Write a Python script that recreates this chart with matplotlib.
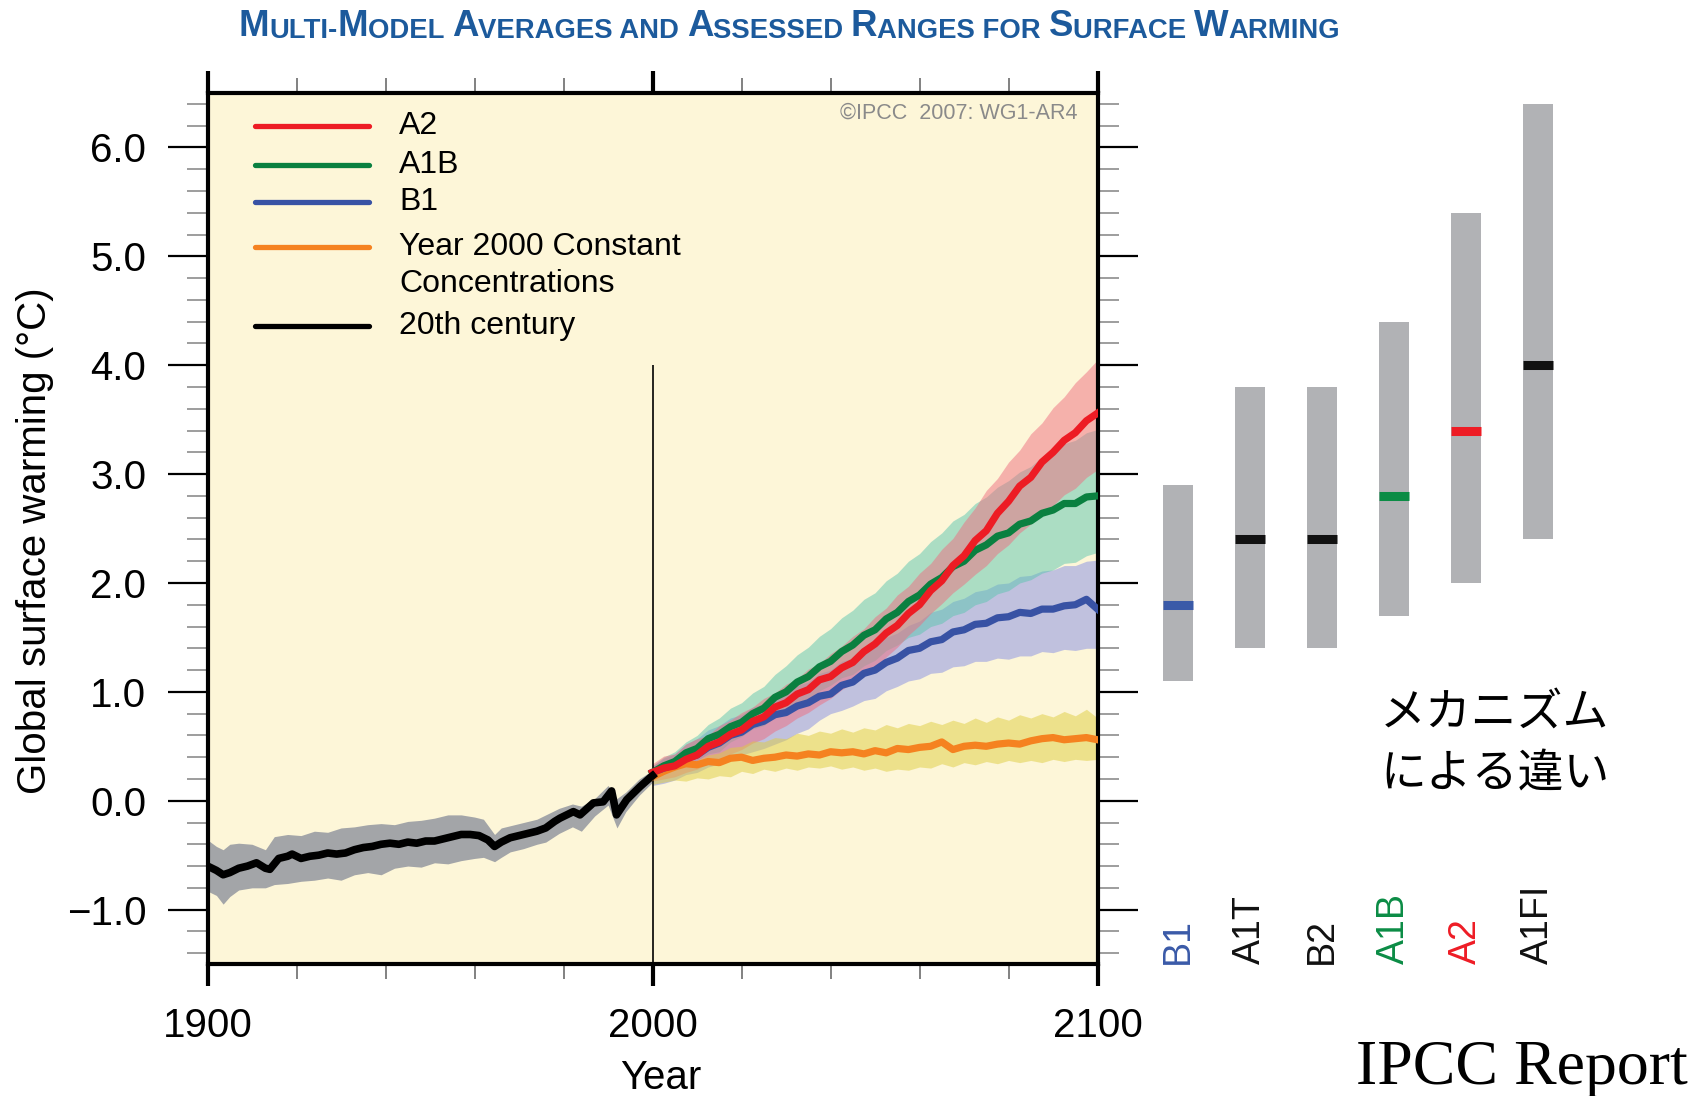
import matplotlib
matplotlib.use("Agg")
import matplotlib.pyplot as plt
from matplotlib.lines import Line2D
from matplotlib.ticker import MultipleLocator, FixedLocator

plt.rcParams['font.family'] = ['Liberation Sans', 'DejaVu Sans']

# ---------------- data ----------------
# 20th century multi-model mean and range (deg C relative to 1980-1999)
hist_years = [1900, 1902, 1903.5, 1905, 1907, 1909, 1911, 1913, 1914, 1916, 1918, 1919,
              1921, 1923, 1925, 1927, 1929, 1931, 1933, 1935, 1937, 1939, 1941, 1943,
              1945, 1947, 1949, 1951, 1953, 1955, 1957, 1959, 1961, 1963, 1964.5, 1966,
              1968, 1970, 1972, 1974, 1976, 1978, 1979.2, 1982.2, 1983.7, 1986.7, 1988.9,
              1990.8, 1991.9, 1994.2, 1997.2, 1999.4, 2000]
hist_mean = [-0.60, -0.64, -0.68, -0.66, -0.62, -0.60, -0.57, -0.62, -0.63, -0.53, -0.51, -0.49,
             -0.53, -0.51, -0.50, -0.48, -0.49, -0.48, -0.45, -0.43, -0.42, -0.40, -0.39, -0.40,
             -0.38, -0.39, -0.37, -0.37, -0.35, -0.33, -0.31, -0.31, -0.32, -0.36, -0.42, -0.38,
             -0.34, -0.32, -0.30, -0.28, -0.25, -0.19, -0.16, -0.10, -0.13, -0.02, -0.01,
             0.09, -0.13, 0.01, 0.13, 0.21, 0.23]

hist_band_years = [1900, 1902, 1903.5, 1905, 1907, 1910, 1913, 1915, 1918, 1921, 1924, 1927,
                   1930, 1933, 1936, 1939, 1942, 1945, 1948, 1951, 1954, 1957, 1960, 1962,
                   1964.5, 1966, 1968, 1971, 1974, 1976, 1979, 1982, 1984, 1987, 1990, 1992,
                   1994, 1997, 2000]
hist_high = [-0.36, -0.42, -0.45, -0.40, -0.39, -0.40, -0.45, -0.33, -0.31, -0.32, -0.28, -0.29,
             -0.25, -0.24, -0.22, -0.21, -0.22, -0.19, -0.18, -0.16, -0.13, -0.13, -0.15, -0.17,
             -0.31, -0.25, -0.23, -0.20, -0.17, -0.13, -0.07, -0.03, -0.05, 0.02, 0.14, 0.02,
             0.08, 0.20, 0.28]
hist_low = [-0.83, -0.87, -0.95, -0.88, -0.82, -0.80, -0.80, -0.77, -0.76, -0.74, -0.73, -0.71,
            -0.73, -0.68, -0.66, -0.68, -0.62, -0.60, -0.61, -0.57, -0.58, -0.55, -0.53, -0.52,
            -0.56, -0.52, -0.47, -0.44, -0.40, -0.38, -0.30, -0.24, -0.28, -0.14, -0.04, -0.25,
            -0.10, 0.05, 0.17]

# 21st century projections on a 2.5-year grid
proj_years = [2000, 2002.5, 2005, 2007.5, 2010, 2012.5, 2015, 2017.5, 2020, 2022.5, 2025,
              2027.5, 2030, 2032.5, 2035, 2037.5, 2040, 2042.5, 2045, 2047.5, 2050,
              2052.5, 2055, 2057.5, 2060, 2062.5, 2065, 2067.5, 2070, 2072.5, 2075,
              2077.5, 2080, 2082.5, 2085, 2087.5, 2090, 2092.5, 2095, 2097.5, 2100]
a2_mean = [0.26, 0.30, 0.32, 0.38, 0.42, 0.50, 0.54, 0.61, 0.65, 0.73, 0.77,
           0.86, 0.90, 0.98, 1.02, 1.11, 1.14, 1.22, 1.27, 1.37, 1.44,
           1.54, 1.61, 1.72, 1.80, 1.93, 2.02, 2.16, 2.25, 2.39, 2.48,
           2.64, 2.75, 2.89, 2.97, 3.11, 3.20, 3.31, 3.38, 3.49, 3.56]
a1b_mean = [0.26, 0.32, 0.36, 0.44, 0.48, 0.57, 0.61, 0.68, 0.72, 0.80, 0.85,
            0.95, 1.00, 1.09, 1.14, 1.23, 1.28, 1.37, 1.43, 1.52, 1.57,
            1.67, 1.73, 1.83, 1.89, 1.99, 2.05, 2.15, 2.20, 2.30, 2.35,
            2.43, 2.46, 2.54, 2.57, 2.64, 2.67, 2.73, 2.73, 2.79, 2.80]
b1_mean = [0.26, 0.30, 0.33, 0.39, 0.42, 0.49, 0.53, 0.60, 0.63, 0.70, 0.73,
           0.79, 0.81, 0.87, 0.90, 0.96, 0.98, 1.06, 1.09, 1.17, 1.20,
           1.27, 1.31, 1.38, 1.40, 1.46, 1.48, 1.55, 1.57, 1.62, 1.63,
           1.68, 1.69, 1.73, 1.72, 1.76, 1.76, 1.79, 1.80, 1.85, 1.76]
const_mean = [0.22, 0.27, 0.31, 0.34, 0.33, 0.36, 0.35, 0.39, 0.40, 0.37, 0.39,
              0.40, 0.42, 0.41, 0.43, 0.42, 0.45, 0.44, 0.45, 0.43, 0.46,
              0.44, 0.48, 0.47, 0.49, 0.50, 0.54, 0.47, 0.50, 0.51, 0.50,
              0.52, 0.53, 0.52, 0.55, 0.57, 0.58, 0.56, 0.57, 0.58, 0.56]

# +/- one standard deviation ranges, same grid
a2_high = [0.34, 0.41, 0.43, 0.52, 0.57, 0.60, 0.69, 0.74, 0.81, 0.86, 0.94,
           0.99, 1.07, 1.12, 1.21, 1.26, 1.35, 1.42, 1.51, 1.58, 1.69,
           1.77, 1.89, 1.97, 2.09, 2.18, 2.31, 2.41, 2.56, 2.69, 2.85,
           2.96, 3.11, 3.22, 3.37, 3.47, 3.61, 3.71, 3.84, 3.94, 4.05]
a2_low = [0.18, 0.20, 0.22, 0.26, 0.29, 0.34, 0.37, 0.43, 0.47, 0.53, 0.57,
          0.64, 0.69, 0.76, 0.81, 0.88, 0.94, 1.02, 1.08, 1.15, 1.22,
          1.32, 1.41, 1.52, 1.61, 1.72, 1.81, 1.91, 1.99, 2.08, 2.16,
          2.27, 2.35, 2.46, 2.54, 2.64, 2.71, 2.81, 2.87, 2.97, 3.04]
a1b_high = [0.32, 0.40, 0.45, 0.54, 0.60, 0.70, 0.76, 0.85, 0.90, 0.99, 1.05,
            1.16, 1.24, 1.34, 1.41, 1.51, 1.58, 1.68, 1.75, 1.85, 1.91,
            2.02, 2.09, 2.20, 2.27, 2.38, 2.46, 2.57, 2.63, 2.73, 2.79,
            2.88, 2.94, 3.02, 3.07, 3.16, 3.21, 3.28, 3.31, 3.38, 3.41]
a1b_low = [0.20, 0.24, 0.29, 0.35, 0.37, 0.43, 0.45, 0.54, 0.59, 0.66, 0.69,
           0.77, 0.81, 0.89, 0.93, 1.01, 1.06, 1.13, 1.16, 1.24, 1.29,
           1.38, 1.43, 1.50, 1.53, 1.60, 1.63, 1.70, 1.73, 1.80, 1.83,
           1.90, 1.93, 2.00, 2.03, 2.09, 2.12, 2.18, 2.19, 2.25, 2.28]
b1_high = [0.32, 0.39, 0.43, 0.52, 0.57, 0.65, 0.69, 0.76, 0.79, 0.86, 0.89,
           0.96, 0.99, 1.06, 1.09, 1.17, 1.20, 1.28, 1.31, 1.39, 1.43,
           1.50, 1.54, 1.61, 1.65, 1.73, 1.76, 1.83, 1.86, 1.92, 1.94,
           1.99, 2.00, 2.06, 2.07, 2.11, 2.12, 2.16, 2.16, 2.20, 2.21]
b1_low = [0.14, 0.16, 0.19, 0.24, 0.26, 0.31, 0.34, 0.37, 0.42, 0.45, 0.48,
          0.52, 0.56, 0.62, 0.66, 0.74, 0.80, 0.83, 0.87, 0.92, 0.94,
          1.01, 1.05, 1.10, 1.12, 1.17, 1.18, 1.23, 1.24, 1.28, 1.28,
          1.31, 1.30, 1.33, 1.33, 1.37, 1.36, 1.39, 1.38, 1.40, 1.40]
const_high = [0.26, 0.29, 0.30, 0.35, 0.37, 0.42, 0.44, 0.49, 0.50, 0.55, 0.54,
              0.58, 0.57, 0.62, 0.60, 0.64, 0.62, 0.66, 0.63, 0.67, 0.65,
              0.70, 0.67, 0.71, 0.69, 0.73, 0.70, 0.74, 0.71, 0.76, 0.72,
              0.77, 0.74, 0.79, 0.76, 0.80, 0.77, 0.82, 0.78, 0.84, 0.76]
const_low = [0.15, 0.17, 0.19, 0.18, 0.21, 0.20, 0.23, 0.22, 0.27, 0.25, 0.29,
             0.27, 0.30, 0.28, 0.31, 0.30, 0.32, 0.29, 0.31, 0.28, 0.30,
             0.27, 0.29, 0.28, 0.31, 0.30, 0.34, 0.31, 0.35, 0.33, 0.36,
             0.34, 0.37, 0.35, 0.37, 0.35, 0.38, 0.36, 0.38, 0.37, 0.38]

# Best estimates and likely ranges of warming at 2090-2099 per scenario
scenarios = ['B1', 'A1T', 'B2', 'A1B', 'A2', 'A1FI']
best_est = [1.8, 2.4, 2.4, 2.8, 3.4, 4.0]
likely_low = [1.1, 1.4, 1.4, 1.7, 2.0, 2.4]
likely_high = [2.9, 3.8, 3.8, 4.4, 5.4, 6.4]
scen_colors = ['#3a5aa8', '#111111', '#111111', '#0b8c45', '#ee1c25', '#111111']

y_ticks = [-1.0, 0.0, 1.0, 2.0, 3.0, 4.0, 5.0, 6.0]
x_ticks = [1900, 2000, 2100]

# ---------------- figure ----------------
fig = plt.figure(figsize=(17.04, 10.96), dpi=100)
fig.patch.set_facecolor('white')

ax = fig.add_axes([0.1218, 0.1204, 0.5223, 0.7947])
ax.set_facecolor('#fdf6d8')
ax.set_xlim(1900, 2100)
ax.set_ylim(-1.5, 6.5)

# shaded ranges
ax.fill_between(hist_band_years, hist_low, hist_high, color='#a3a5a8', lw=0, zorder=2)
ax.fill_between(proj_years, b1_low, b1_high, color='#858de4', alpha=0.5, lw=0, zorder=2)
ax.fill_between(proj_years, a1b_low, a1b_high, color='#5bc5b0', alpha=0.5, lw=0, zorder=2)
ax.fill_between(proj_years, a2_low, a2_high, color='#ef6d80', alpha=0.5, lw=0, zorder=2)
ax.fill_between(proj_years, const_low, const_high, color='#dfcd40', alpha=0.5, lw=0, zorder=2)

# year-2000 divider
ax.vlines(2000, -1.5, 4.0, color='black', lw=1.2, zorder=3)

lw = 5.2
ax.plot(proj_years, const_mean, color='#f58220', lw=lw, zorder=4, solid_joinstyle='round')
ax.plot(proj_years, b1_mean, color='#3852a4', lw=lw, zorder=4, solid_joinstyle='round')
ax.plot(proj_years, a1b_mean, color='#0a8040', lw=lw, zorder=4, solid_joinstyle='round')
ax.plot(proj_years, a2_mean, color='#ed1c24', lw=lw, zorder=5, solid_joinstyle='round')
ax.plot(hist_years, hist_mean, color='black', lw=5.5, zorder=5, solid_joinstyle='round')

# axes styling
for s in ax.spines.values():
    s.set_linewidth(3)
ax.xaxis.set_major_locator(FixedLocator(x_ticks))
ax.xaxis.set_minor_locator(MultipleLocator(20))
ax.yaxis.set_major_locator(FixedLocator(y_ticks))
ax.yaxis.set_minor_locator(MultipleLocator(0.2))
ax.set_xticklabels([str(v) for v in x_ticks])
ax.set_yticklabels([f'{v:.1f}'.replace('-', '\u2212') for v in y_ticks])
ax.tick_params(axis='both', which='both', direction='out', top=True, right=True)
ax.tick_params(axis='y', which='major', length=29, width=1.6, color='black',
               labelsize=29, pad=15)
ax.tick_params(axis='y', which='minor', length=15, width=1.2, color='#8c8c8c')
ax.tick_params(axis='x', which='major', length=16, width=3, color='black',
               labelsize=29, pad=15)
ax.tick_params(axis='x', which='minor', length=11, width=1.3, color='#777777')

# legend drawn inside the panel
legend_rows = [('A2', '#ed1c24', 0.962), ('A1B', '#0a8040', 0.917),
               ('B1', '#3852a4', 0.875), ('Year 2000 Constant', '#f58220', 0.823),
               ('20th century', 'black', 0.7325)]
for label, col, yy in legend_rows:
    ax.add_line(Line2D([0.0533, 0.1813], [yy, yy], transform=ax.transAxes,
                       color=col, lw=3.8, solid_capstyle='round', zorder=6))
    ax.text(0.215, yy, label, transform=ax.transAxes, fontsize=23,
            va='center', ha='left', zorder=6)
ax.text(0.215, 0.781, 'Concentrations', transform=ax.transAxes, fontsize=23,
        va='center', ha='left', zorder=6)

ax.text(0.978, 0.977, '\u00a9IPCC  2007: WG1-AR4', transform=ax.transAxes,
        fontsize=15.5, color='#8a8a8a', ha='right', va='center', zorder=6)

fig.text(0.0205, 0.507, 'Global surface warming (\u00b0C)', rotation=90,
         fontsize=29, ha='center', va='center')
fig.text(0.388, 0.0165, 'Year', fontsize=29, ha='center', va='center')

# likely ranges per scenario
ax2 = fig.add_axes([0.6702, 0.1204, 0.2535, 0.7947])
ax2.set_xlim(-0.5, 5.5)
ax2.set_ylim(-1.5, 6.5)
ax2.axis('off')
xpos = list(range(len(scenarios)))
bw = 0.42
ax2.bar(xpos, [h - l for h, l in zip(likely_high, likely_low)], bottom=likely_low,
        width=bw, color='#b1b2b5', lw=0)
ax2.hlines(best_est, [x - bw / 2 for x in xpos], [x + bw / 2 for x in xpos],
           colors=scen_colors, lw=6.5, capstyle='butt')
for x, name, col in zip(xpos, scenarios, scen_colors):
    ax2.text(x, -1.5, name, rotation=90, ha='center', va='bottom', fontsize=27,
             color=col, clip_on=False)

# title in small capitals, built from chained pieces
title_parts = [('M', 'L'), ('ULTI-', 'S'), ('M', 'L'), ('ODEL ', 'S'), ('A', 'L'),
               ('VERAGES AND ', 'S'), ('A', 'L'), ('SSESSED ', 'S'), ('R', 'L'),
               ('ANGES FOR ', 'S'), ('S', 'L'), ('URFACE ', 'S'), ('W', 'L'),
               ('ARMING', 'S')]
sizes = {'L': 26.4, 'S': 19.8}
last = None
for txt, kind in title_parts:
    kw = dict(fontsize=sizes[kind], fontweight='bold', color='#1c5a9c',
              va='bottom', ha='left')
    if last is None:
        last = fig.text(0.140, 0.960, txt, **kw)
    else:
        last = ax.annotate(txt, xy=(1, 0), xycoords=last, annotation_clip=False, **kw)

fig.text(0.810, 0.322, 'メカニズム\nによる違い', fontsize=33, ha='left', va='center',
         linespacing=1.35, family=['Noto Sans CJK JP', 'DejaVu Sans'])
fig.text(0.9906, 0.0114, 'IPCC Report', fontsize=46, ha='right', va='baseline',
         family=['Liberation Serif', 'DejaVu Serif'])

fig.savefig('out.png', dpi=100)
